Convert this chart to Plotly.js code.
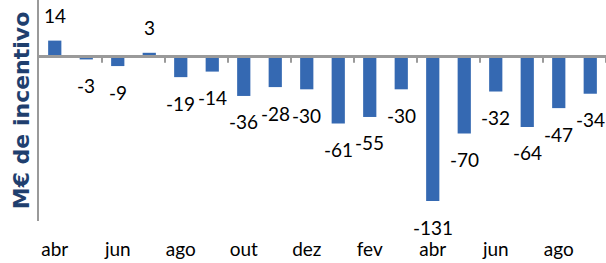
<!DOCTYPE html>
<html><head><meta charset="utf-8">
<script src="https://cdn.plot.ly/plotly-3.0.1.min.js"></script>
<style>html,body{margin:0;padding:0;background:#fff}#c{width:606px;height:263px}</style>
</head><body><div id="c"></div>
<script>
const months = ["abr","mai","jun","jul","ago","set","out","nov","dez","jan","fev","mar","abr","mai","jun","jul","ago","set"];
const values = [14,-3,-9,3,-19,-14,-36,-28,-30,-61,-55,-30,-131,-70,-32,-64,-47,-34];
const yTitle = "M€ de incentivo";

const xs = months.map((m,i)=>i);
const labelIdx = xs.filter(i=>i%2===0);
const boundaryTicks = xs.filter(i=>i%2===1).map(i=>i+0.5);
const xRange = [-0.5, xs.length-0.5];
const yRange = [-149, 50.7];
const tickDepth = 6;
const lineHalf = 0.9;
const font = "Lato, 'Liberation Sans', sans-serif";
const gray = '#9A9A9A';

const bars = {
  type:'bar', x:xs, y:values, marker:{color:'#3569B2'}, width:0.42,
  hoverinfo:'none', showlegend:false
};
// category axis line at zero, drawn as one thin bar spanning the whole x range
const zeroLine = {
  type:'bar', x:[(xRange[0]+xRange[1])/2], y:[2*lineHalf], base:[-lineHalf],
  width:[xRange[1]-xRange[0]], marker:{color:gray, line:{width:0}},
  hoverinfo:'none', showlegend:false
};
// tick marks between every pair of months
const tickMarks = {
  type:'bar', x:boundaryTicks, y:boundaryTicks.map(()=>-tickDepth), base:boundaryTicks.map(()=>0),
  width:boundaryTicks.map(()=>0.05), marker:{color:gray, line:{width:0}},
  hoverinfo:'none', showlegend:false
};
const annotations = values.map((v,i)=>({
  x:i, y:v, xref:'x', yref:'y', text:String(v), showarrow:false,
  yshift: v>=0 ? 25 : -26, font:{family:font,size:19,color:'#000'}
}));

Plotly.newPlot('c',[bars, zeroLine, tickMarks],{
  width:606,height:263,
  margin:{l:39,r:0,t:0,b:42},
  paper_bgcolor:'#fff',plot_bgcolor:'#fff',
  showlegend:false,
  barmode:'overlay',
  xaxis:{range:xRange,side:'bottom',showline:false,ticks:'outside',ticklen:11,tickcolor:'rgba(0,0,0,0)',
    tickvals:labelIdx,ticktext:labelIdx.map(i=>months[i]),showgrid:false,zeroline:false,
    tickfont:{family:font,size:19,color:'#000'}},
  yaxis:{range:yRange,showline:true,linecolor:gray,linewidth:2,showticklabels:false,
    showgrid:false,zeroline:true,zerolinecolor:gray,zerolinewidth:2,
    title:{text:'<b>'+yTitle+'</b>',font:{family:"'DejaVu Sans', sans-serif",size:22,color:'#1F3F6E'},standoff:1}},
  annotations:annotations
},{displayModeBar:false});
</script></body></html>
